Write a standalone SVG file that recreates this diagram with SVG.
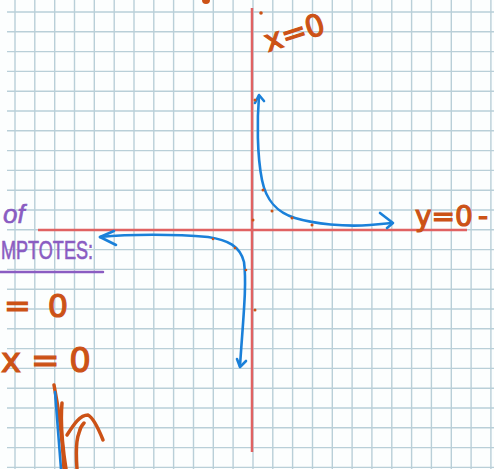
<svg xmlns="http://www.w3.org/2000/svg" width="494" height="469" viewBox="0 0 494 469">
<defs>
<style>
.grid line{stroke:#b9cfd8;stroke-width:1.4}
.axis{stroke:#e06262;stroke-width:2.5;fill:none}
.curve{stroke:#1a80d9;stroke-width:2.6;fill:none;stroke-linecap:round;stroke-linejoin:round}
.ink{stroke:#cc5216;stroke-width:3.5;fill:none;stroke-linecap:round;stroke-linejoin:round}
.dot{fill:#cc5216}
.otext{font-family:"DejaVu Sans",sans-serif;fill:#cc5216;stroke:#cc5216;stroke-width:1.2}
.ptext{font-family:"Liberation Sans",sans-serif;fill:#8a5cc2;stroke:#8a5cc2;stroke-width:0.6}
</style>
</defs>
<rect width="494" height="469" fill="#fcfefe"/>
<g id="grid" class="grid">
<line x1="15" y1="0" x2="15" y2="469"/><line x1="34.8" y1="0" x2="34.8" y2="469"/><line x1="54.7" y1="0" x2="54.7" y2="469"/><line x1="74.5" y1="0" x2="74.5" y2="469"/><line x1="94.3" y1="0" x2="94.3" y2="469"/><line x1="114.2" y1="0" x2="114.2" y2="469"/><line x1="134" y1="0" x2="134" y2="469"/><line x1="153.8" y1="0" x2="153.8" y2="469"/><line x1="173.6" y1="0" x2="173.6" y2="469"/><line x1="193.5" y1="0" x2="193.5" y2="469"/><line x1="213.3" y1="0" x2="213.3" y2="469"/><line x1="233.1" y1="0" x2="233.1" y2="469"/><line x1="253" y1="0" x2="253" y2="469"/><line x1="272.8" y1="0" x2="272.8" y2="469"/><line x1="292.6" y1="0" x2="292.6" y2="469"/><line x1="312.5" y1="0" x2="312.5" y2="469"/><line x1="332.3" y1="0" x2="332.3" y2="469"/><line x1="352.1" y1="0" x2="352.1" y2="469"/><line x1="371.9" y1="0" x2="371.9" y2="469"/><line x1="391.8" y1="0" x2="391.8" y2="469"/><line x1="411.6" y1="0" x2="411.6" y2="469"/><line x1="431.4" y1="0" x2="431.4" y2="469"/><line x1="451.3" y1="0" x2="451.3" y2="469"/><line x1="471.1" y1="0" x2="471.1" y2="469"/><line x1="490.9" y1="0" x2="490.9" y2="469"/>
<line x1="7" y1="12" x2="494" y2="12"/><line x1="7" y1="31.8" x2="494" y2="31.8"/><line x1="7" y1="51.6" x2="494" y2="51.6"/><line x1="7" y1="71.4" x2="494" y2="71.4"/><line x1="7" y1="91.2" x2="494" y2="91.2"/><line x1="7" y1="111" x2="494" y2="111"/><line x1="7" y1="130.8" x2="494" y2="130.8"/><line x1="7" y1="150.6" x2="494" y2="150.6"/><line x1="7" y1="170.4" x2="494" y2="170.4"/><line x1="7" y1="190.2" x2="494" y2="190.2"/><line x1="7" y1="210" x2="494" y2="210"/><line x1="7" y1="229.8" x2="494" y2="229.8"/><line x1="7" y1="249.6" x2="494" y2="249.6"/><line x1="7" y1="269.4" x2="494" y2="269.4"/><line x1="7" y1="289.2" x2="494" y2="289.2"/><line x1="7" y1="309" x2="494" y2="309"/><line x1="7" y1="328.8" x2="494" y2="328.8"/><line x1="7" y1="348.6" x2="494" y2="348.6"/><line x1="7" y1="368.4" x2="494" y2="368.4"/><line x1="7" y1="388.2" x2="494" y2="388.2"/><line x1="7" y1="408" x2="494" y2="408"/><line x1="7" y1="427.8" x2="494" y2="427.8"/><line x1="7" y1="447.6" x2="494" y2="447.6"/><line x1="7" y1="467.4" x2="494" y2="467.4"/>
</g>
<g id="axes">
<line class="axis" x1="38" y1="230" x2="467" y2="230"/>
<line class="axis" x1="252" y1="8" x2="252" y2="452"/>
</g>
<g id="connectors">
<path class="curve" d="M259 96 C257 120 257 155 262 180 C266 200 276 212 295 218 C315 224 345 227 370 225 L392 223"/>
<path class="curve" d="M255 103 L259 95 L264 101"/>
<path class="curve" d="M380 213 L393 223 L387 228"/>
<path class="curve" d="M100 237 C130 234 175 234 208 237 C228 240 240 246 244 262 C247 285 243 320 240 366"/>
<path class="curve" d="M114 231 L100 237 L116 245"/>
<path class="curve" d="M237 359 L240 367 L246 361"/>
</g>
<g id="dots">
<circle class="dot" cx="261" cy="13" r="1.8"/><circle class="dot" cx="255" cy="100" r="1.5"/><circle class="dot" cx="263" cy="190" r="1.5"/><circle class="dot" cx="272" cy="211" r="1.5"/><circle class="dot" cx="292" cy="218" r="1.5"/><circle class="dot" cx="312" cy="225" r="1.5"/><circle class="dot" cx="253" cy="220" r="1.5"/><circle class="dot" cx="213" cy="239" r="1.3"/><circle class="dot" cx="235" cy="248" r="1.3"/><circle class="dot" cx="246" cy="270" r="1.3"/><circle class="dot" cx="255" cy="310" r="1.5"/>
<ellipse class="dot" cx="206" cy="0" rx="4" ry="4"/>
</g>
<g id="label-x0">
<text class="otext" x="268" y="52" font-size="30" transform="rotate(-18 268 52)">x=0</text>
</g>
<g id="label-y0">
<text class="otext" x="415" y="226" font-size="28">y=0<tspan x="478">-</tspan></text>
</g>
<g id="label-left">
<text class="otext" x="4" y="317" font-size="32" textLength="64" lengthAdjust="spacing">= 0</text>
<text class="otext" x="1" y="372" font-size="34" textLength="90" lengthAdjust="spacing">x=0</text>
</g>
<g id="label-asymptotes">
<text class="ptext" x="3" y="223" font-size="26" font-style="italic">of</text>
<text class="ptext" x="1" y="259" font-size="25" textLength="92" lengthAdjust="spacingAndGlyphs">MPTOTES:</text>
<line x1="0" y1="272" x2="103" y2="272" stroke="#8a5cc2" stroke-width="2.5" stroke-linecap="round"/>
</g>
<g id="scribble">
<path class="ink" d="M54 385 C58 405 62 430 64 469"/>
<path class="ink" d="M62 403 C60 425 63 450 66 469"/>
<path class="ink" d="M67 435 C74 424 80 415 88 415 C94 418 99 430 103 440"/>
<path class="ink" d="M77 469 C76 455 76 440 79 433 C80 428 82 425 84 423"/>
<path class="curve" d="M55 392 C57 420 59 445 61 469"/>
</g>
</svg>
